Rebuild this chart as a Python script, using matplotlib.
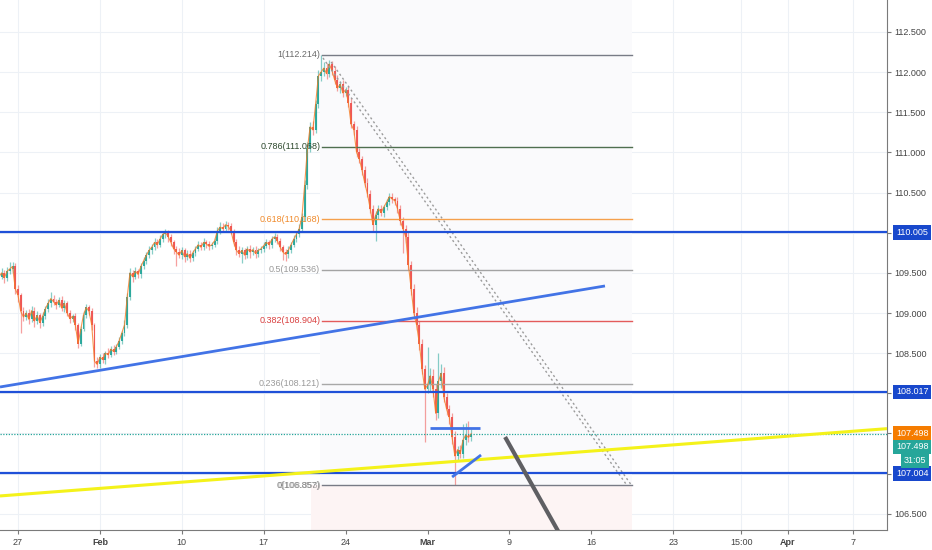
import numpy as np
import matplotlib.pyplot as plt
import matplotlib.transforms as mtransforms

plt.rcParams['font.family'] = ['Liberation Sans', 'DejaVu Sans']

# 4h bars, bar 0 = Jan 27 00:00 (weekends skipped)
first_bar = -7
closes = [109.45, 109.50, 109.44, 109.52, 109.55, 109.58, 109.30,
          109.22, 109.02, 108.95, 109.00, 108.92, 109.03, 108.90, 108.97, 108.88, 108.96,
          109.05, 109.12, 109.18, 109.14, 109.10, 109.16, 109.06, 109.12, 109.00,
          108.93, 108.96, 108.85, 108.62, 108.80, 108.98, 109.07, 109.02, 108.85, 108.40,
          108.36, 108.45, 108.42, 108.50, 108.48, 108.55, 108.52, 108.58, 108.65, 108.75,
          108.85, 109.20, 109.50, 109.45, 109.52, 109.48, 109.58, 109.65, 109.72, 109.78,
          109.82, 109.88, 109.85, 109.92, 109.98, 110.00, 109.95, 109.88, 109.80, 109.76,
          109.72, 109.78, 109.70, 109.74, 109.68, 109.75, 109.80, 109.85, 109.82, 109.88,
          109.86, 109.83, 109.85, 109.90, 110.02, 110.07, 110.05, 110.10, 110.08, 110.02,
          109.88, 109.78, 109.74, 109.78, 109.72, 109.80, 109.76, 109.79, 109.74, 109.78,
          109.80, 109.84, 109.88, 109.85, 109.92, 109.95, 109.90, 109.82, 109.76, 109.73,
          109.78, 109.85, 109.92, 109.98, 110.05, 110.20, 110.60, 111.05, 111.32, 111.28,
          111.60, 111.95, 112.00, 112.05, 111.98, 112.10, 112.02, 111.90, 111.80, 111.85,
          111.74, 111.78, 111.62, 111.35, 111.28, 111.00, 110.92, 110.78, 110.62, 110.48,
          110.30, 110.10, 110.22, 110.30, 110.25, 110.32, 110.38, 110.45, 110.42, 110.40,
          110.30, 110.15, 110.05, 109.95, 109.60, 109.30, 109.00, 108.85, 108.62, 108.30,
          108.05, 108.10, 108.22, 108.05, 107.75, 108.15, 108.25, 107.95, 107.80, 107.70,
          107.45, 107.22, 107.30, 107.25, 107.42, 107.48, 107.45, 107.498]
# wick lengths in pips above / below the body
wick_up = [4, 6, 3, 5, 8, 6, 4,
           5, 3, 6, 4, 5, 6, 4, 5, 3, 5,
           4, 6, 8, 5, 3, 4, 5, 4, 3,
           4, 3, 4, 3, 4, 5, 4, 3, 4, 3,
           5, 4, 5, 3, 6, 4, 5, 4, 5, 3,
           6, 5, 6, 4, 5, 3, 4, 5, 4, 5,
           4, 6, 4, 5, 4, 5, 3, 4, 3, 4,
           5, 4, 3, 4, 5, 4, 3, 5, 4, 5,
           3, 4, 3, 4, 5, 6, 5, 4, 3, 4,
           3, 4, 5, 4, 3, 4, 5, 3, 4, 3,
           4, 5, 4, 3, 4, 5, 3, 4, 3, 4,
           5, 4, 5, 4, 6, 5, 6, 8, 6, 7,
           5, 8, 21, 8, 6, 5, 4, 5, 6, 4,
           5, 4, 5, 6, 4, 5, 6, 4, 5, 6,
           5, 4, 5, 4, 5, 3, 4, 5, 4, 3,
           4, 5, 4, 5, 6, 5, 6, 8, 5, 6,
           5, 48, 10, 8, 6, 35, 12, 8, 6, 6,
           6, 8, 5, 6, 20, 15, 18, 6]
wick_dn = [5, 3, 6, 4, 3, 5, 6,
           8, 27, 5, 4, 6, 3, 8, 4, 7, 4,
           3, 4, 5, 4, 5, 3, 4, 5, 4,
           6, 4, 6, 5, 3, 3, 4, 5, 6, 7,
           4, 5, 4, 5, 4, 3, 4, 3, 3, 4,
           3, 4, 4, 6, 3, 5, 4, 3, 4, 3,
           5, 3, 4, 3, 4, 4, 6, 5, 6, 18,
           4, 5, 6, 4, 5, 3, 4, 3, 4, 3,
           5, 4, 3, 3, 4, 3, 4, 3, 5, 4,
           5, 6, 4, 12, 5, 4, 8, 4, 5, 4,
           3, 4, 3, 5, 4, 3, 4, 5, 10, 8,
           4, 3, 3, 4, 3, 4, 5, 6, 5, 6,
           4, 5, 6, 5, 7, 4, 6, 5, 4, 6,
           5, 4, 6, 5, 6, 6, 5, 6, 5, 4,
           6, 8, 20, 5, 4, 5, 4, 3, 5, 5,
           6, 6, 30, 8, 6, 7, 8, 6, 8, 6,
           65, 5, 8, 10, 8, 6, 8, 6, 7, 8,
           8, 36, 6, 6, 5, 6, 5, 4]

# fibonacci retracement
fib_ratios = [1, 0.786, 0.618, 0.5, 0.382, 0.236, 0]
fib_prices = [112.214, 111.068, 110.168, 109.536, 108.904, 108.121, 106.857]
fib_colors = ['#787b86', '#4f6f4f', '#f5a04c', '#a3a3a3', '#e35b5b', '#a8a8a8', '#787b86']
fib_text_colors = ['#6a6a6a', '#2e4a2e', '#f08a2a', '#9a9a9a', '#d94040', '#9a9a9a', '#8a8a8a']
fib_x = [111.5, 225.0]

# horizontal levels
h_levels = [110.005, 108.017, 107.004]
last_price = 107.498

# drawn trend lines: (bar0, price0, bar1, price1)
blue_trend = (-6.6, 108.079, 215.0, 109.337)
yellow_trend = (-6.6, 106.722, 318.3, 107.56)
gray_line = (178.4, 107.456, 200.7, 106.111)
blue_short_h = (150.9, 107.569, 169.2, 107.569)
blue_short_d = (159.0, 106.958, 169.6, 107.232)
diag_a = (111.7, 112.176, 222.7, 106.871)
diag_b = (114.7, 112.126, 224.9, 106.846)

time_pos = [0, 30, 60, 90, 120, 150, 180, 210, 240, 265, 282, 306]
time_lab = ['27', 'Feb', '10', '17', '24', 'Mar', '9', '16', '23', '15:00', 'Apr', '7']
price_ticks = [106.5, 107.0, 107.5, 108.0, 108.5, 109.0, 109.5, 110.0, 110.5, 111.0,
               111.5, 112.0, 112.5]
hidden_ticks = [107.0, 107.5, 108.0, 110.0]  # covered by the price boxes

fig = plt.figure(figsize=(9.32, 5.5), dpi=100)
ax = fig.add_axes([0, 20 / 550, 887 / 932, 530 / 550])
xmin, xmax = -6.6, 318.3
ymin, ymax = 106.298, 112.898
ax.set_xlim(xmin, xmax)
ax.set_ylim(ymin, ymax)

# grid
for t in time_pos:
    ax.axvline(t, color='#edf1f6', lw=0.8, zorder=0)
for p in price_ticks:
    ax.axhline(p, color='#edf1f6', lw=0.8, zorder=0)

# fib background boxes
ax.fill_between([110.6, 224.9], fib_prices[-1], ymax, color='#fafafc', zorder=0.5, lw=0)
ax.fill_between([107.3, 224.9], ymin, fib_prices[-1], color='#fdf4f4', zorder=0.5, lw=0)

# candles
c = np.array(closes)
o = np.concatenate([[c[0] - 0.03], c[:-1]])
x = np.arange(first_bar, first_bar + len(c))
top = np.maximum(o, c)
bot = np.minimum(o, c)
hi = top + np.array(wick_up) / 100
lo = bot - np.array(wick_dn) / 100
up = c >= o
cols = np.where(up, '#26a69a', '#ef5350')
ax.vlines(x, lo, hi, colors=cols, lw=0.9, alpha=0.55, zorder=2)
ax.bar(x, np.maximum(top - bot, 0.015), bottom=bot, width=0.7, color=cols, alpha=0.95,
       lw=0, zorder=3)
ax.plot(x, c, color='#f57c24', lw=0.8, alpha=0.8, zorder=4)

# fib lines and labels
for r, p, col, tcol in zip(fib_ratios, fib_prices, fib_colors, fib_text_colors):
    ax.plot(fib_x, [p, p], color=col, lw=1, zorder=3)
    ax.text(fib_x[0] - 0.8, p, '%g(%.3f)' % (r, p), color=tcol, fontsize=6.5,
            ha='right', va='center', zorder=5)
ax.text(fib_x[0] - 0.3, fib_prices[-1], '0(108.353)', color='#8a8a8a', fontsize=6.5,
        ha='right', va='center', alpha=0.7, zorder=5)

for d in (diag_a, diag_b):
    ax.plot([d[0], d[2]], [d[1], d[3]], color='#9b9b9b', lw=1, ls=(0, (1.5, 2)), zorder=4)

# horizontal levels
for p in h_levels:
    ax.axhline(p, color='#1f50d8', lw=1.6, zorder=5)
ax.axhline(last_price, color='#26a69a', lw=0.9, ls=(0, (1, 1.2)), zorder=4)

def seg(s, **kw):
    ax.plot([s[0], s[2]], [s[1], s[3]], solid_capstyle='butt', **kw)

seg(blue_trend, color='#4273e6', lw=2, zorder=6)
seg(yellow_trend, color='#f4f21a', lw=2.2, zorder=6)
seg(gray_line, color='#5f5f63', lw=3, zorder=6)
seg(blue_short_h, color='#4273e6', lw=2, zorder=6)
seg(blue_short_d, color='#4273e6', lw=2, zorder=6)

# axes styling
for s in ['top', 'left']:
    ax.spines[s].set_visible(False)
ax.spines['right'].set_color('#7a7a7a')
ax.spines['bottom'].set_color('#7a7a7a')
ax.yaxis.tick_right()
ax.set_yticks(price_ticks)
ax.set_yticklabels(['' if p in hidden_ticks else '%.3f' % p for p in price_ticks])
ax.tick_params(axis='y', length=3, color='#7a7a7a', labelsize=6.5, labelcolor='#444444', pad=2)
ax.set_xticks(time_pos)
ax.set_xticklabels(time_lab)
ax.tick_params(axis='x', length=3, color='#7a7a7a', labelsize=6.5, labelcolor='#444444', pad=3)
for lab in ax.get_xticklabels():
    if lab.get_text() in ('Feb', 'Mar', 'Apr'):
        lab.set_fontweight('bold')

# price boxes on the axis
trans = mtransforms.blended_transform_factory(ax.transAxes, ax.transData)
def box(p, txt, fc, dx=9):
    ax.text(1.0 + dx / 887, p, txt, transform=trans, fontsize=6.5, color='white',
            ha='left', va='center', clip_on=False, zorder=10,
            bbox=dict(boxstyle='square,pad=0.3', fc=fc, ec='none'))

for p in h_levels:
    box(p, '%.3f' % p, '#1848cc')
box(last_price, '107.498', '#f57c00')
box(last_price - 0.165, '107.498', '#26a69a')
box(last_price - 0.335, '31:05', '#26a69a', dx=17)

fig.savefig('out.png', dpi=100)
